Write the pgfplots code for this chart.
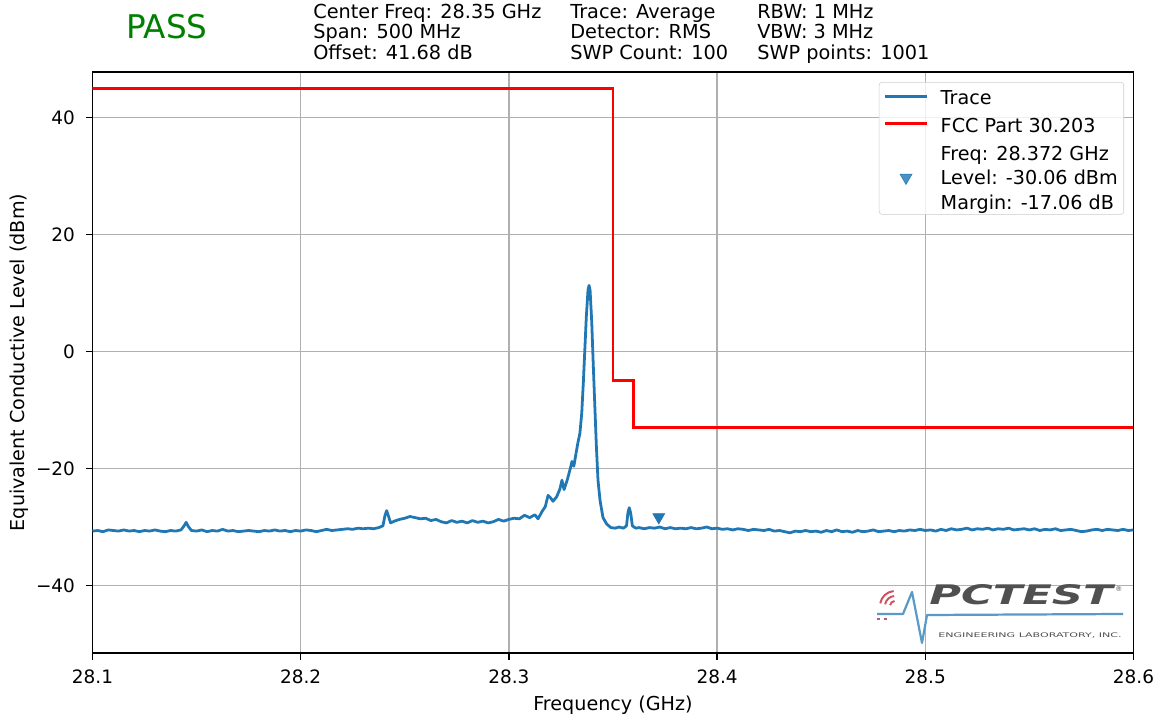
\documentclass[border=0pt]{standalone}
\usepackage{fontspec}
\setmainfont{DejaVu Sans}
\usepackage{graphicx}
\usepackage{pgfplots}
\pgfplotsset{compat=1.18}
\definecolor{mplblue}{HTML}{1F77B4}
\definecolor{gridgray}{HTML}{B0B0B0}
\definecolor{passgreen}{HTML}{008000}
\definecolor{logogray}{HTML}{505050}
\definecolor{logoblue}{HTML}{5A9AC8}
\definecolor{logored}{HTML}{D05060}
\pgfplotsset{
    mark legend/.style={legend image code/.code={\draw[##1] plot coordinates {(15pt,0pt)};}},
}
% row struts for the legend (heights from the reference spacing)
\newcommand{\tallrow}{\rule[-6.8pt]{0pt}{20.9pt}}
\newcommand{\midrow}{\rule[-5.07pt]{0pt}{19.17pt}}
\newcommand{\lowrow}{\rule[-5.07pt]{0pt}{16.9pt}}
\newcommand{\lastrow}{\rule[-10pt]{0pt}{21.83pt}}

\begin{document}
\begin{tikzpicture}
% pixel frame of the reference: origin top left, 1 px = 0.72pt
\begin{scope}[shift={(-66.6pt,470.16pt)}, x=0.72pt, y=-0.72pt]
\useasboundingbox (0,0) rectangle (1162,719);
\end{scope}

\begin{axis}[
    at={(0,0)}, anchor=south west,
    scale only axis, width=749.5pt, height=418.3pt,
    xmin=28.1, xmax=28.6, ymin=-51.54, ymax=47.78,
    xtick={28.1,28.2,28.3,28.4,28.5,28.6},
    xticklabels={28.1,28.2,28.3,28.4,28.5,28.6},
    ytick={-40,-20,0,20,40},
    yticklabels={−40,−20,0,20,40},
    xtick pos=bottom, ytick pos=left,
    tick align=outside, major tick length=4.8pt,
    tick style={black, line width=1.1pt},
    axis line style={line width=1.1pt},
    grid=major, grid style={gridgray, line width=1pt},
    ticklabel style={font=\fontsize{13.3}{16}\selectfont},
    xticklabel style={anchor=base, inner sep=0pt, yshift=-17.3pt},
    yticklabel style={anchor=east, inner sep=0pt, xshift=-7.6pt},
    xlabel={Frequency (GHz)},
    xlabel style={at={(axis description cs:0.5,-0.0993)}, anchor=base, inner sep=0pt, font=\fontsize{13.8}{16}\selectfont},
    ylabel={Equivalent Conductive Level (dBm)},
    ylabel style={at={(axis description cs:-0.0658,0.5)}, anchor=base, inner sep=0pt, font=\fontsize{13.8}{16}\selectfont},
    legend style={at={(1,1)}, anchor=north east, xshift=-6.8pt, yshift=-7.2pt,
        draw=black!20, rounded corners=2pt, fill=white, fill opacity=0.8, text opacity=1,
        font=\fontsize{13.8}{16.9}\selectfont, inner xsep=3.3pt, inner ysep=2.2pt,
        nodes={inner xsep=1pt, inner ysep=0pt}, row sep=4.3pt, column sep=8pt},
    legend cell align=left,
    legend image code/.code={\draw[#1] (0pt,0pt) -- (30pt,0pt);},
]

\addplot[mplblue, line width=2pt, line join=round] coordinates {
(28.1000,-30.7)(28.1025,-30.6)(28.1050,-30.8)(28.1075,-30.5)(28.1100,-30.6)
(28.1125,-30.7)(28.1150,-30.5)(28.1175,-30.7)(28.1200,-30.6)(28.1225,-30.8)
(28.1250,-30.6)(28.1275,-30.7)(28.1300,-30.5)(28.1325,-30.7)(28.1350,-30.8)
(28.1375,-30.6)(28.1400,-30.7)(28.1425,-30.5)(28.1440,-29.8)(28.1450,-29.2)
(28.1460,-29.9)(28.1475,-30.6)(28.1500,-30.7)(28.1525,-30.5)(28.1550,-30.8)
(28.1575,-30.6)(28.1600,-30.7)(28.1625,-30.4)(28.1650,-30.7)(28.1675,-30.6)
(28.1700,-30.8)(28.1725,-30.7)(28.1750,-30.6)(28.1775,-30.7)(28.1800,-30.8)
(28.1825,-30.6)(28.1850,-30.7)(28.1875,-30.5)(28.1900,-30.7)(28.1925,-30.6)
(28.1950,-30.8)(28.1975,-30.6)(28.2000,-30.7)(28.2025,-30.5)(28.2050,-30.6)
(28.2075,-30.8)(28.2100,-30.6)(28.2125,-30.4)(28.2150,-30.6)(28.2175,-30.5)
(28.2200,-30.4)(28.2225,-30.3)(28.2250,-30.4)(28.2275,-30.2)(28.2300,-30.3)
(28.2325,-30.2)(28.2350,-30.3)(28.2375,-30.1)(28.2395,-29.8)(28.2405,-28.0)
(28.2413,-27.2)(28.2422,-28.2)(28.2432,-29.3)(28.2450,-29.0)(28.2475,-28.7)
(28.2500,-28.5)(28.2525,-28.2)(28.2550,-28.4)(28.2575,-28.6)(28.2600,-28.5)
(28.2625,-28.9)(28.2650,-28.7)(28.2675,-29.1)(28.2700,-29.3)(28.2725,-28.9)
(28.2750,-29.2)(28.2775,-29.0)(28.2800,-29.3)(28.2825,-28.9)(28.2850,-29.2)
(28.2875,-29.0)(28.2900,-29.3)(28.2925,-29.1)(28.2950,-28.7)(28.2975,-29.0)
(28.3000,-28.7)(28.3025,-28.5)(28.3050,-28.6)(28.3075,-28.0)(28.3100,-28.4)
(28.3125,-27.9)(28.3140,-28.6)(28.3160,-27.3)(28.3175,-26.5)(28.3188,-24.6)
(28.3200,-25.0)(28.3212,-25.6)(28.3230,-24.8)(28.3245,-23.5)(28.3255,-22.0)
(28.3265,-23.6)(28.3280,-22.0)(28.3295,-20.0)(28.3303,-18.8)(28.3312,-19.6)
(28.3322,-17.5)(28.3332,-15.5)(28.3341,-14.0)(28.3350,-10.5)(28.3358,-5.0)
(28.3365,0.5)(28.3372,6.0)(28.3380,10.5)(28.3385,11.3)(28.3390,10.5)
(28.3398,5.0)(28.3405,-2.0)(28.3413,-9.5)(28.3420,-16.0)(28.3428,-22.0)
(28.3438,-25.5)(28.3452,-28.4)(28.3470,-29.5)(28.3490,-30.1)(28.3510,-30.2)
(28.3530,-30.0)(28.3550,-30.2)(28.3565,-29.8)(28.3572,-27.5)(28.3578,-26.7)
(28.3585,-27.6)(28.3593,-29.8)(28.3610,-30.2)(28.3625,-30.1)(28.3650,-30.3)
(28.3675,-30.1)(28.3700,-30.2)(28.3725,-30.0)(28.3750,-30.3)(28.3775,-30.1)
(28.3800,-30.3)(28.3825,-30.2)(28.3850,-30.3)(28.3875,-30.1)(28.3900,-30.3)
(28.3925,-30.2)(28.3950,-30.0)(28.3975,-30.3)(28.4000,-30.2)(28.4025,-30.4)
(28.4050,-30.3)(28.4075,-30.5)(28.4100,-30.3)(28.4125,-30.4)(28.4150,-30.6)
(28.4175,-30.4)(28.4200,-30.5)(28.4225,-30.6)(28.4250,-30.4)(28.4275,-30.7)
(28.4300,-30.6)(28.4325,-30.8)(28.4350,-31.0)(28.4375,-30.7)(28.4400,-30.8)
(28.4425,-30.6)(28.4450,-30.8)(28.4475,-30.7)(28.4500,-30.9)(28.4525,-30.6)
(28.4550,-30.8)(28.4575,-30.5)(28.4600,-30.8)(28.4625,-30.7)(28.4650,-30.9)
(28.4675,-30.6)(28.4700,-30.8)(28.4725,-30.7)(28.4750,-30.5)(28.4775,-30.8)
(28.4800,-30.7)(28.4825,-30.6)(28.4850,-30.8)(28.4875,-30.6)(28.4900,-30.7)
(28.4925,-30.5)(28.4950,-30.6)(28.4975,-30.4)(28.5000,-30.6)(28.5025,-30.5)
(28.5050,-30.7)(28.5075,-30.4)(28.5100,-30.6)(28.5125,-30.3)(28.5150,-30.5)
(28.5175,-30.4)(28.5200,-30.2)(28.5225,-30.5)(28.5250,-30.3)(28.5275,-30.4)
(28.5300,-30.2)(28.5325,-30.5)(28.5350,-30.3)(28.5375,-30.4)(28.5400,-30.2)
(28.5425,-30.5)(28.5450,-30.4)(28.5475,-30.3)(28.5500,-30.5)(28.5525,-30.3)
(28.5550,-30.6)(28.5575,-30.4)(28.5600,-30.5)(28.5625,-30.3)(28.5650,-30.6)
(28.5675,-30.5)(28.5700,-30.4)(28.5725,-30.6)(28.5750,-30.8)(28.5775,-30.7)
(28.5800,-30.5)(28.5825,-30.4)(28.5850,-30.6)(28.5875,-30.4)(28.5900,-30.5)
(28.5925,-30.6)(28.5950,-30.4)(28.5975,-30.6)(28.6000,-30.5)
};
\addlegendentry{\tallrow Trace}

\addplot[red, line width=2pt] coordinates {
(28.10,45)(28.35,45)(28.35,-5)(28.36,-5)(28.36,-13)(28.60,-13)
};
\addlegendentry{\tallrow FCC Part 30.203}

\addlegendimage{empty legend}
\addlegendentry{\midrow Freq: 28.372 GHz}

\addplot[only marks, mplblue, mark=triangle*, mark size=5pt,
    mark options={rotate=180, fill=mplblue, draw=mplblue}, mark legend]
    coordinates {(28.372,-28.3)};
\addlegendentry{\lowrow Level: -30.06 dBm}

\addlegendimage{empty legend}
\addlegendentry{\lastrow Margin: -17.06 dB}
\end{axis}

\begin{scope}[shift={(-66.6pt,470.16pt)}, x=0.72pt, y=-0.72pt]
% header
\node[anchor=base west, inner sep=0pt, text=passgreen, font=\fontsize{23.5}{27}\selectfont] at (126,39) {PASS};
\begin{scope}[every node/.style={anchor=base west, inner sep=0pt, font=\fontsize{13.9}{16}\selectfont}]
\node at (313,18.5) {Center Freq: 28.35 GHz};
\node at (313,39) {Span: 500 MHz};
\node at (313,59.5) {Offset: 41.68 dB};
\node at (570,18.5) {Trace: Average};
\node at (570,39) {Detector: RMS};
\node at (570,59.5) {SWP Count: 100};
\node at (757,18.5) {RBW: 1 MHz};
\node at (757,39) {VBW: 3 MHz};
\node at (757,59.5) {SWP points: 1001};
\end{scope}
% logo
\foreach \r in {5,10,15}
  \draw[logored, line width=1.4pt] (895,606) ++(-95:\r) arc (-95:-170:\r);
\draw[logored!80!gray, line width=1.4pt, dash pattern=on 2.5pt off 2.5pt] (877,619) -- (890,619);
\draw[logoblue, line width=1.6pt, line join=round] (877,614) -- (903,614) -- (912,592) -- (922,643) -- (927,615) -- (1123,614);
\node[anchor=base west, inner sep=0pt, text=logogray] at (929,605)
  {\resizebox{132pt}{14.4pt}{\bfseries\itshape PCTEST}};
\node[anchor=base west, inner sep=0pt, text=logogray, font=\fontsize{5}{6}\selectfont] at (1115,592) {®};
\node[anchor=base west, inner sep=0pt, text=logogray] at (938,637)
  {\resizebox{132pt}{3.4pt}{ENGINEERING LABORATORY, INC.}};
\end{scope}
\end{tikzpicture}
\end{document}
